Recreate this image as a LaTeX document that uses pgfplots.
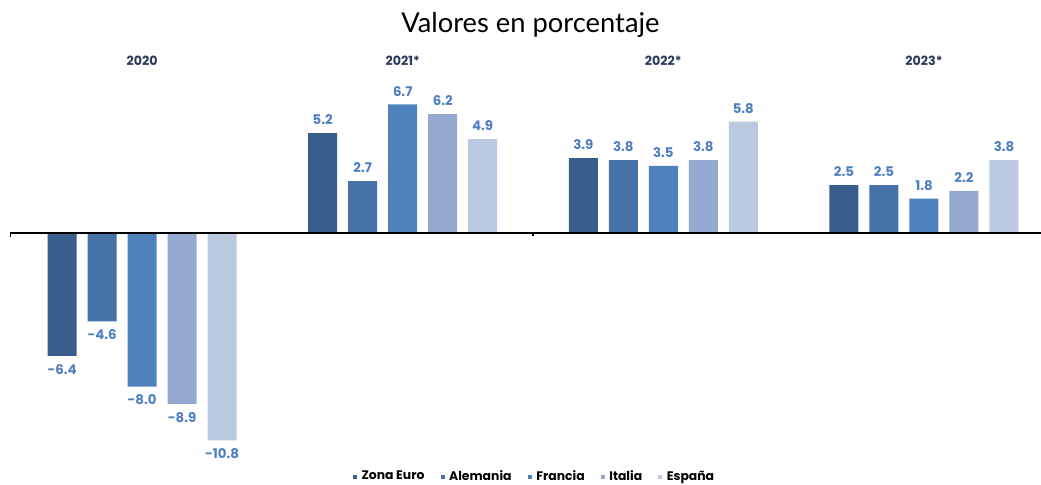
\documentclass[border=0pt]{standalone}
\usepackage{pgfplots}
\pgfplotsset{compat=1.18}
\usepackage{fontspec}
\setmainfont{Poppins}
\newfontfamily\titlefont{Lato}

\definecolor{cZE}{HTML}{3A5E8C}
\definecolor{cDE}{HTML}{4572A7}
\definecolor{cFR}{HTML}{4F81BD}
\definecolor{cIT}{HTML}{95A9D0}
\definecolor{cES}{HTML}{BAC8E0}
\definecolor{labelblue}{HTML}{4F7FC0}
\definecolor{yearnavy}{HTML}{2B3B5A}

\pgfplotsset{
  leg/.style={legend image code/.code={%
    \fill[##1,draw=none] (0pt,-1.5pt) rectangle (3pt,1.5pt);
    \path (0pt,0pt) -- (4.5pt,0pt);}},
}
\tikzset{yearlab/.style={font=\bfseries\fontsize{9.5}{11}\selectfont, text=yearnavy}}

\begin{document}
\begin{tikzpicture}
\begin{axis}[
    scale only axis,
    width=780.75pt, height=363pt,
    xmin=-0.545, xmax=3.449,
    ymin=-13.07, ymax=12.14,
    axis lines=none,
    clip=false,
    ybar=8.25pt,
    bar width=21.75pt,
    nodes near coords,
    every node near coord/.append style={font=\bfseries\fontsize{10}{12}\selectfont, text=labelblue, inner ysep=6pt},
    /pgf/number format/.cd, fixed, fixed zerofill, precision=1, assume math mode=true,
    /pgfplots/.cd,
    legend columns=5,
    legend style={at={(axis cs:1.507,-12.68)}, anchor=center, draw=none, fill=none,
      font=\bfseries\fontsize{9.3}{11}\selectfont,
      /tikz/every even column/.append style={column sep=10pt}},
]
\addplot[fill=cZE, draw=none, leg] coordinates {(0,-6.4) (1,5.2) (2,3.9) (3,2.5)};
\addplot[fill=cDE, draw=none, leg] coordinates {(0,-4.6) (1,2.7) (2,3.8) (3,2.5)};
\addplot[fill=cFR, draw=none, leg] coordinates {(0,-8.0) (1,6.7) (2,3.5) (3,1.8)};
\addplot[fill=cIT, draw=none, leg] coordinates {(0,-8.9) (1,6.2) (2,3.8) (3,2.2)};
\addplot[fill=cES, draw=none, leg] coordinates {(0,-10.8) (1,4.9) (2,5.8) (3,3.8)};
\legend{Zona Euro, Alemania, Francia, Italia, España}

% zero line and ticks
\draw[black, line width=1.2pt] (axis cs:-0.505,0) -- (axis cs:3.449,0);
\draw[black, line width=1pt] (axis cs:-0.505,0) -- (axis cs:-0.505,-0.2);
\draw[black, line width=1pt] (axis cs:1.5,0) -- (axis cs:1.5,-0.15);

% title and group labels
\node[font=\titlefont\fontsize{20.5}{22}\selectfont] at (axis cs:1.49,10.85) {Valores en porcentaje};
\node[yearlab] at (axis cs:0,8.96) {2020};
\node[yearlab] at (axis cs:1,8.96) {2021*};
\node[yearlab] at (axis cs:2,8.96) {2022*};
\node[yearlab] at (axis cs:3,8.96) {2023*};

\coordinate (bl) at (rel axis cs:0,0);
\coordinate (tr) at (rel axis cs:1,1);
\end{axis}
\pgfresetboundingbox
\path[use as bounding box] (bl) rectangle (tr);
\end{tikzpicture}
\end{document}
